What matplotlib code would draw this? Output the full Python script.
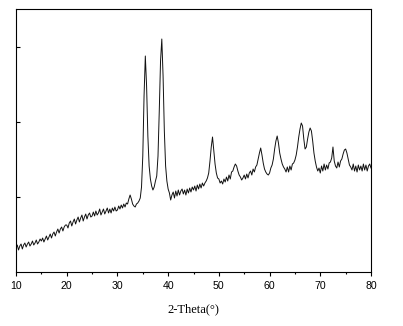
import matplotlib
matplotlib.use("Agg")
import matplotlib.pyplot as plt
import numpy as np

# 2-theta scan, 0.25 degree step from 10 to 80
two_theta = np.arange(10.0, 80.001, 0.25)

# intensity (a.u.), 20 values per 5 degrees
intensity = [
    23, 26, 21, 25, 27, 22, 26, 28, 24, 27, 29, 25, 27, 30, 26, 28, 31, 27, 29, 32,
    30, 33, 29, 32, 35, 31, 34, 37, 33, 37, 39, 35, 39, 42, 38, 42, 44, 40, 44, 46,
    46, 43, 48, 50, 45, 49, 52, 47, 51, 54, 49, 53, 56, 50, 54, 57, 52, 56, 58, 54,
    55, 59, 55, 60, 56, 58, 62, 56, 59, 62, 57, 60, 63, 58, 62, 58, 63, 60, 64, 60,
    61, 65, 62, 66, 63, 67, 64, 68, 67, 72, 76, 72, 67, 65, 64, 67, 68, 70, 73, 84,
    115, 175, 215, 185, 135, 105, 92, 85, 81, 84, 90, 95, 115, 160, 210, 232, 195, 140, 105, 90,
    82, 78, 71, 76, 79, 73, 80, 75, 81, 76, 80, 82, 77, 81, 76, 82, 78, 83, 79, 84,
    81, 85, 80, 86, 82, 87, 83, 88, 85, 88, 90, 93, 98, 110, 124, 134, 121, 107, 98, 93,
    92, 88, 90, 87, 92, 89, 94, 90, 96, 92, 99, 100, 104, 107, 105, 100, 96, 94, 91, 93,
    96, 92, 97, 93, 98, 100, 96, 102, 99, 104, 106, 112, 118, 123, 116, 108, 102, 99, 97, 96,
    98, 103, 106, 112, 122, 130, 135, 128, 118, 112, 107, 104, 102, 99, 104, 99, 105, 101, 107, 108,
    111, 116, 124, 134, 142, 148, 145, 132, 122, 124, 132, 139, 143, 140, 130, 118, 110, 104, 100, 103,
    98, 105, 100, 107, 101, 106, 102, 108, 109, 113, 124, 110, 105, 103, 109, 104, 110, 112, 117, 121,
    122, 118, 112, 106, 104, 101, 107, 100, 105, 99, 106, 101, 105, 100, 107, 101, 106, 100, 105, 107,
    103,
]

x_ticks = [10, 20, 30, 40, 50, 60, 70, 80]
y_ticks = [74, 149, 224]

fig = plt.figure(figsize=(4.03, 3.26), dpi=100)
ax = fig.add_axes([0.0397, 0.1656, 0.8809, 0.8068])

ax.plot(two_theta, intensity, color="#111111", linewidth=0.7)

ax.set_xlim(10, 80)
ax.set_ylim(-1, 262)
ax.set_xticks(x_ticks)
ax.set_xticks(np.arange(15, 80, 10), minor=True)
ax.set_yticks(y_ticks)
ax.set_yticklabels([])

ax.tick_params(axis="x", which="major", direction="out", length=3, width=0.8,
               pad=3.5, labelsize=7.6)
ax.tick_params(axis="x", which="minor", direction="out", length=1.6, width=0.8)
ax.tick_params(axis="y", which="major", direction="in", length=3, width=0.8)
for lab in ax.get_xticklabels():
    lab.set_fontfamily("Liberation Sans")

for sp in ax.spines.values():
    sp.set_linewidth(0.8)

ax.set_xlabel("2-Theta(°)", fontfamily="Liberation Serif", fontsize=9, labelpad=9)

fig.savefig("out.png", dpi=100)
